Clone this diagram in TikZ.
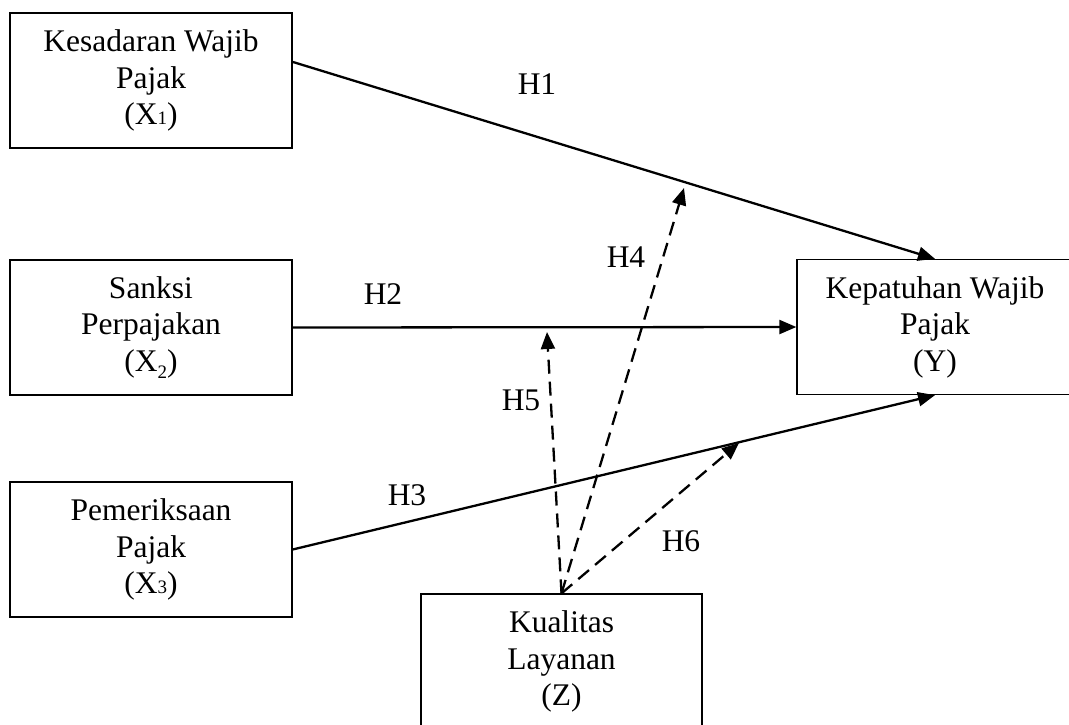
\documentclass[tikz,border=0pt]{standalone}
\usepackage{fontspec}
\setmainfont{Liberation Serif}
\usepackage{tikz}
\usetikzlibrary{arrows.meta, positioning, calc}
\tikzset{
  varbox/.style={draw, line width=1.3pt, minimum width=282pt, minimum height=135pt,
    inner sep=0pt, align=center, font=\fontsize{31.5}{36.5}\selectfont},
  jalur/.style={line width=2.3pt, -{Triangle[length=17pt, width=14pt]}},
  moderasi/.style={jalur, dash pattern=on 14pt off 8pt},
  hlabel/.style={font=\fontsize{31.5}{36.5}\selectfont}
}
\newcommand{\subkecil}[1]{{\fontsize{19}{19}\selectfont #1}}
\begin{document}
\begin{tikzpicture}[x=1pt, y=-1pt]
    \useasboundingbox (0,0) rectangle (1069,724);
    % variabel
    \node[varbox] (x1) at (151, 80.5) {Kesadaran Wajib\\Pajak\\(X\subkecil{1})};
    \node[varbox] (x2) at (151, 327.5) {Sanksi\\Perpajakan\\(X\raisebox{-7pt}{\subkecil{2}})};
    \node[varbox] (x3) at (151, 549.5) {Pemeriksaan\\Pajak\\(X\subkecil{3})};
    \node[varbox, minimum width=276pt] (y) at (935, 327) {Kepatuhan Wajib\\Pajak\\(Y)};
    \node[varbox, minimum width=281pt] (z) at (561.5, 661.5) {Kualitas\\Layanan\\(Z)};
    % ujung panah moderasi
    \coordinate (h1awal) at (293, 62);
    \coordinate (t4) at (684, 188);
    \coordinate (t5) at (547, 332);
    \coordinate (t6) at (739, 443);
    % pengaruh langsung
    \draw[jalur] (h1awal) -- (y.north);
    \draw[jalur] (x2.east) -- (y.west);
    \draw[jalur] (x3.east) -- (y.south);
    % pengaruh moderasi
    \draw[moderasi] (z.north) -- (t4);
    \draw[moderasi] (z.north) -- (t5);
    \draw[moderasi] (z.north) -- (t6);
    % label hipotesis
    \foreach \x/\y/\lab in {537/84/H1, 383/294/H2, 407/495/H3, 626/257/H4, 521/400/H5, 681/541/H6} {
      \node[hlabel] (\lab) at (\x, \y) {\lab};
    }
\end{tikzpicture}
\end{document}
